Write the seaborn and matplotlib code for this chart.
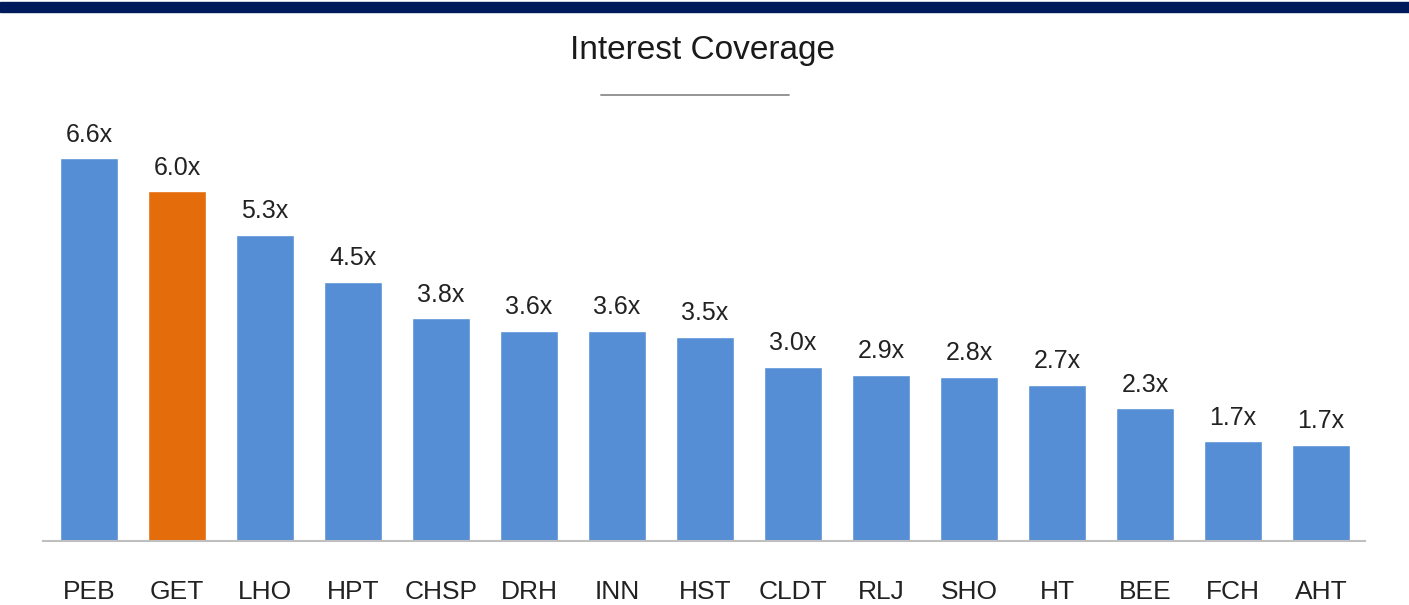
import matplotlib
matplotlib.use("Agg")
import matplotlib.pyplot as plt
import seaborn as sns
import pandas as pd
from matplotlib import font_manager

# interest coverage by ticker
tickers = ["PEB", "GET", "LHO", "HPT", "CHSP", "DRH", "INN", "HST",
           "CLDT", "RLJ", "SHO", "HT", "BEE", "FCH", "AHT"]
coverage = [6.60, 6.03, 5.28, 4.47, 3.84, 3.62, 3.62, 3.52,
            3.00, 2.86, 2.83, 2.69, 2.29, 1.72, 1.66]
highlight = "GET"

blue = "#558ED5"
orange = "#E46C0A"

sns.set_style("white")
names = {f.name for f in font_manager.fontManager.ttflist}
narrow = "Liberation Sans Narrow" if "Liberation Sans Narrow" in names else "Liberation Sans"
plt.rcParams["font.family"] = [narrow, "DejaVu Sans"]

df = pd.DataFrame({"Ticker": tickers, "Coverage": coverage})
palette = {t: (orange if t == highlight else blue) for t in tickers}

fig = plt.figure(figsize=(14.09, 6.05), dpi=100)
ax = fig.add_axes([43 / 1409, 1 - 541 / 605, (1365 - 43) / 1409, 431 / 605])

sns.barplot(data=df, x="Ticker", y="Coverage", hue="Ticker", palette=palette,
            order=tickers, width=0.66, legend=False, saturation=1, ax=ax)

for i, v in enumerate(coverage):
    ax.text(i, v + 0.2, f"{v:.1f}x", ha="center", va="bottom",
            fontsize=18, color="#222222")

ax.set_xlim(-0.523, 14.5)
ax.set_ylim(0, 7.43)
ax.set_xlabel("")
ax.set_ylabel("")
ax.set_yticks([])
ax.tick_params(axis="x", length=0, pad=28, labelsize=19, labelcolor="#222222")
for s in ["top", "right", "left"]:
    ax.spines[s].set_visible(False)
ax.spines["bottom"].set_color("#BFBFBF")
ax.spines["bottom"].set_linewidth(1.5)

# header band, title and the short rule under it
fig.patches.append(plt.Rectangle((0, 1 - 12 / 605), 1, 10 / 605,
                                 transform=fig.transFigure, color="#001A5C"))
fig.text(703 / 1409, 1 - 51 / 605, "Interest Coverage", ha="center", va="center",
         fontsize=24, color="#1a1a1a")
fig.add_artist(plt.Line2D([601 / 1409, 789 / 1409], [1 - 95 / 605, 1 - 95 / 605],
                          transform=fig.transFigure, color="#8C8C8C", linewidth=1.3))

fig.savefig("out.png", dpi=100)
